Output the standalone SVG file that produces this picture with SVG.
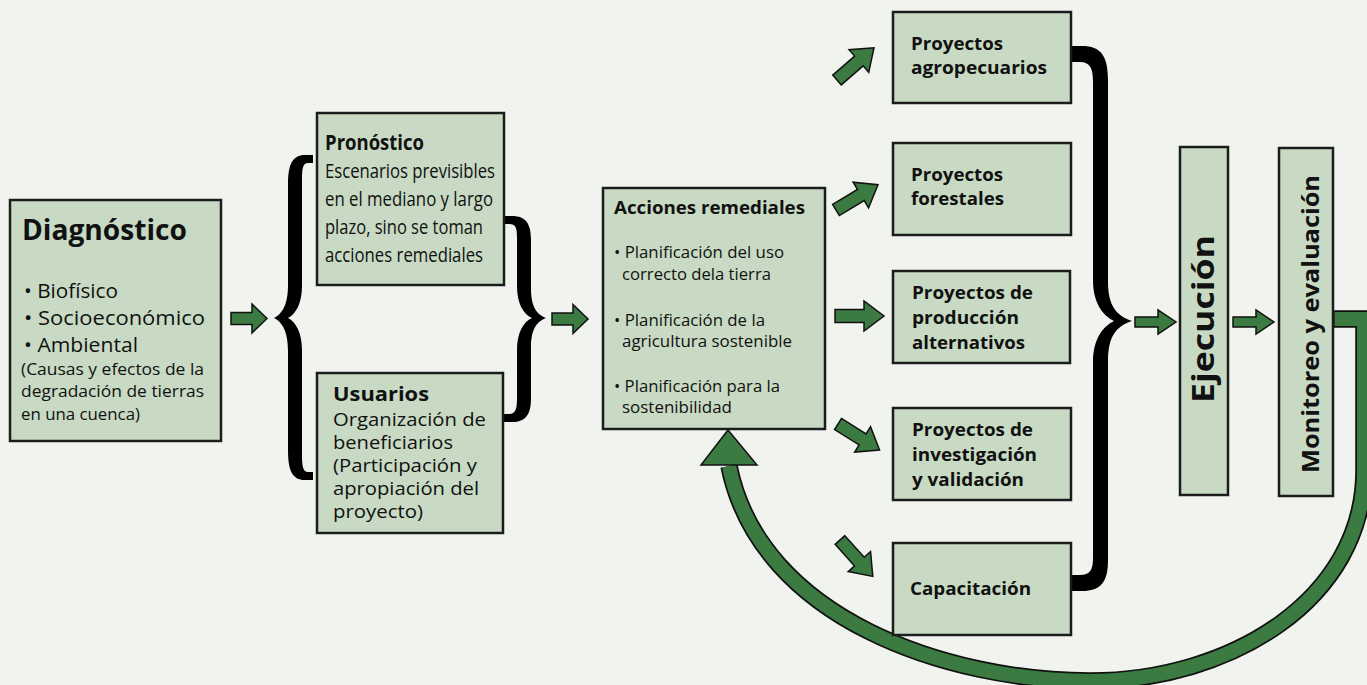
<svg xmlns="http://www.w3.org/2000/svg" width="1367" height="685" viewBox="0 0 1367 685">
<style>
.bg{fill:#f1f4ee}
.box{fill:#c8dac3;stroke:#1c1c1c;stroke-width:2.5}
.t{font-family:"Open Sans","Noto Sans",sans-serif;fill:#111}
.b{font-weight:bold}
.arr{fill:#3b7a41;stroke:#111;stroke-width:1.5;stroke-linejoin:miter}
.brace{fill:#000}
</style>
<defs>
<path id="a49" d="M0,-6.5 H29 V-15 L49,0 L29,15 V6.5 H0 Z"/>
<path id="a36" d="M0,-6 H21 V-14.5 L36,0 L21,14.5 V6 H0 Z"/>
<path id="a41" d="M0,-5 H23 V-12 L41,0 L23,12 V5 H0 Z"/>
</defs>
<rect class="bg" x="0" y="0" width="1367" height="685"/>

<g id="connectors">
  <use href="#a36" class="arr" transform="translate(231,318.5)"/>
  <use href="#a36" class="arr" transform="translate(552,319)"/>
  <use href="#a49" class="arr" transform="translate(837,80) rotate(-41)"/>
  <use href="#a49" class="arr" transform="translate(836,210) rotate(-31)"/>
  <use href="#a49" class="arr" transform="translate(835,316)"/>
  <use href="#a49" class="arr" transform="translate(838,424) rotate(32)"/>
  <use href="#a49" class="arr" transform="translate(840,540) rotate(48)"/>
  <use href="#a41" class="arr" transform="translate(1135,322)"/>
  <use href="#a41" class="arr" transform="translate(1233,322)"/>
  <path class="brace" d="M313,155 L305,155 C292,155 288,165 288,185 L288,285 C288,305 282,314 274,318 C282,322 288,331 288,351 L288,450 C288,470 292,480 305,480 L313,480 L313,472 L308,472 C303,472 302,466 302,455 L302,350 C302,333 296,322 288,318 C296,314 302,303 302,286 L302,180 C302,168 303,163 308,163 L313,163 Z"/>
  <path class="brace" d="M504,216 L512,216 C526,216 531,224 531,240 L531,288 C531,306 536,314 546,318 C536,322 531,330 531,348 L531,398 C531,414 526,422 512,422 L504,422 L504,414 L509,414 C516,414 517,408 517,398 L517,350 C517,333 523,322 532,318 C523,314 517,303 517,286 L517,238 C517,228 516,224 509,224 L504,224 Z"/>
  <path class="brace" d="M1071,46 L1082,46 C1101,46 1108,56 1108,80 L1108,282 C1108,305 1116,316 1132,321 C1116,326 1108,337 1108,360 L1108,560 C1108,582 1101,591 1082,591 L1071,591 L1071,575 L1080,575 C1090,575 1093,570 1093,558 L1093,362 C1093,340 1102,327 1114,321 C1102,315 1093,302 1093,280 L1093,82 C1093,68 1090,62 1080,62 L1071,62 Z"/>
  <g id="feedback">
    <path d="M1333,319 H1364 V470 C1364,600 1230,681 1090,681 C950,681 760,620 729,466" fill="none" stroke="#111" stroke-width="17.5" stroke-linejoin="miter"/>
    <path d="M1334.5,319 H1364 V470 C1364,600 1230,681 1090,681 C950,681 760,620 729,466" fill="none" stroke="#3b7a41" stroke-width="14" stroke-linejoin="miter"/>
    <polygon class="arr" points="728,430 757,465 701,465"/>
  </g>
</g>

<g id="diagnostico">
  <rect class="box" x="10" y="200" width="211" height="241"/>
  <text class="t b" x="22" y="240" font-size="28" textLength="165" lengthAdjust="spacingAndGlyphs">Diagnóstico</text>
  <text class="t" x="24" y="298" font-size="19.5" textLength="94" lengthAdjust="spacingAndGlyphs">• Biofísico</text>
  <text class="t" x="24" y="325" font-size="19.5" textLength="181" lengthAdjust="spacingAndGlyphs">• Socioeconómico</text>
  <text class="t" x="24" y="352" font-size="19.5" textLength="114" lengthAdjust="spacingAndGlyphs">• Ambiental</text>
  <text class="t" x="21" y="375" font-size="16.5" textLength="183" lengthAdjust="spacingAndGlyphs">(Causas y efectos de la</text>
  <text class="t" x="21" y="397" font-size="16.5" textLength="183" lengthAdjust="spacingAndGlyphs">degradación de tierras</text>
  <text class="t" x="21" y="420" font-size="16.5" textLength="119" lengthAdjust="spacingAndGlyphs">en una cuenca)</text>
</g>

<g id="pronostico">
  <rect class="box" x="317" y="113" width="187" height="172"/>
  <text class="t b" x="325" y="150" font-size="21" textLength="99" lengthAdjust="spacingAndGlyphs">Pronóstico</text>
  <text class="t" x="325" y="178" font-size="20" textLength="170" lengthAdjust="spacingAndGlyphs">Escenarios previsibles</text>
  <text class="t" x="325" y="206" font-size="20" textLength="168" lengthAdjust="spacingAndGlyphs">en el mediano y largo</text>
  <text class="t" x="325" y="234" font-size="20" textLength="158" lengthAdjust="spacingAndGlyphs">plazo, sino se toman</text>
  <text class="t" x="325" y="262" font-size="20" textLength="158" lengthAdjust="spacingAndGlyphs">acciones remediales</text>
</g>

<g id="usuarios">
  <rect class="box" x="317" y="373" width="186" height="160"/>
  <text class="t b" x="333" y="401" font-size="19" textLength="96" lengthAdjust="spacingAndGlyphs">Usuarios</text>
  <text class="t" x="333" y="426" font-size="17.5" textLength="153" lengthAdjust="spacingAndGlyphs">Organización de</text>
  <text class="t" x="333" y="449" font-size="17.5" textLength="120" lengthAdjust="spacingAndGlyphs">beneficiarios</text>
  <text class="t" x="333" y="472" font-size="17.5" textLength="144" lengthAdjust="spacingAndGlyphs">(Participación y</text>
  <text class="t" x="333" y="495" font-size="17.5" textLength="146" lengthAdjust="spacingAndGlyphs">apropiación del</text>
  <text class="t" x="333" y="518" font-size="17.5" textLength="90" lengthAdjust="spacingAndGlyphs">proyecto)</text>
</g>

<g id="acciones">
  <rect class="box" x="603" y="188" width="222" height="241"/>
  <text class="t b" x="614" y="214" font-size="18" textLength="191" lengthAdjust="spacingAndGlyphs">Acciones remediales</text>
  <text class="t" x="614" y="258" font-size="15.5" textLength="170" lengthAdjust="spacingAndGlyphs">• Planificación del uso</text>
  <text class="t" x="622" y="280" font-size="15.5" textLength="149" lengthAdjust="spacingAndGlyphs">correcto dela tierra</text>
  <text class="t" x="614" y="326" font-size="15.5" textLength="151" lengthAdjust="spacingAndGlyphs">• Planificación de la</text>
  <text class="t" x="622" y="347" font-size="15.5" textLength="170" lengthAdjust="spacingAndGlyphs">agricultura sostenible</text>
  <text class="t" x="614" y="392" font-size="15.5" textLength="166" lengthAdjust="spacingAndGlyphs">• Planificación para la</text>
  <text class="t" x="622" y="413" font-size="15.5" textLength="110" lengthAdjust="spacingAndGlyphs">sostenibilidad</text>
</g>

<g id="agropecuarios">
  <rect class="box" x="893" y="12" width="178" height="91"/>
  <text class="t b" x="911" y="50" font-size="18.5" textLength="92" lengthAdjust="spacingAndGlyphs">Proyectos</text>
  <text class="t b" x="911" y="74" font-size="18.5" textLength="136" lengthAdjust="spacingAndGlyphs">agropecuarios</text>
</g>
<g id="forestales">
  <rect class="box" x="893" y="143" width="178" height="92"/>
  <text class="t b" x="911" y="181" font-size="18.5" textLength="92" lengthAdjust="spacingAndGlyphs">Proyectos</text>
  <text class="t b" x="911" y="205" font-size="18.5" textLength="93" lengthAdjust="spacingAndGlyphs">forestales</text>
</g>
<g id="produccion">
  <rect class="box" x="893" y="271" width="177" height="92"/>
  <text class="t b" x="912" y="299" font-size="18.5" textLength="121" lengthAdjust="spacingAndGlyphs">Proyectos de</text>
  <text class="t b" x="912" y="324" font-size="18.5" textLength="107" lengthAdjust="spacingAndGlyphs">producción</text>
  <text class="t b" x="912" y="349" font-size="18.5" textLength="113" lengthAdjust="spacingAndGlyphs">alternativos</text>
</g>
<g id="investigacion">
  <rect class="box" x="893" y="408" width="178" height="92"/>
  <text class="t b" x="912" y="436" font-size="18.5" textLength="121" lengthAdjust="spacingAndGlyphs">Proyectos de</text>
  <text class="t b" x="912" y="461" font-size="18.5" textLength="125" lengthAdjust="spacingAndGlyphs">investigación</text>
  <text class="t b" x="912" y="486" font-size="18.5" textLength="112" lengthAdjust="spacingAndGlyphs">y validación</text>
</g>
<g id="capacitacion">
  <rect class="box" x="893" y="543" width="178" height="92"/>
  <text class="t b" x="910" y="595" font-size="18.5" textLength="121" lengthAdjust="spacingAndGlyphs">Capacitación</text>
</g>

<g id="ejecucion">
  <rect class="box" x="1180" y="147" width="48" height="348"/>
  <text class="t b" transform="translate(1214,319) rotate(-90)" text-anchor="middle" font-size="31" textLength="168" lengthAdjust="spacingAndGlyphs">Ejecución</text>
</g>
<g id="monitoreo">
  <rect class="box" x="1279" y="148" width="54" height="348"/>
  <text class="t b" transform="translate(1319,324) rotate(-90)" text-anchor="middle" font-size="24" textLength="298" lengthAdjust="spacingAndGlyphs">Monitoreo y evaluación</text>
</g>
</svg>
